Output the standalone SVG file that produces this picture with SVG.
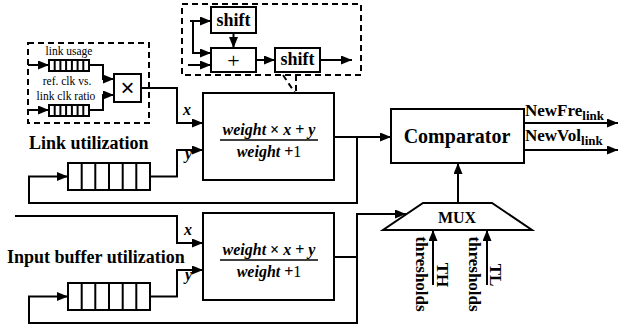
<svg xmlns="http://www.w3.org/2000/svg" width="618" height="325" viewBox="0 0 618 325">
  <defs>
    <marker id="arr" markerWidth="11" markerHeight="9" refX="11" refY="4.5" orient="auto" markerUnits="userSpaceOnUse">
      <path d="M0,0 L11,4.5 L0,9 z" fill="#000"/>
    </marker>
    <style>
      .box{fill:#fff;stroke:#000;stroke-width:2}
      .dash{fill:none;stroke:#000;stroke-width:2;stroke-dasharray:6,4}
      .wire{fill:none;stroke:#000;stroke-width:2}
      .arw{marker-end:url(#arr)}
      .cell{stroke:#000;stroke-width:2}
      text{font-family:"Liberation Serif","Times New Roman",serif;fill:#000}
      .b{font-weight:bold}
      .i{font-style:italic}
      .mid{text-anchor:middle}
      .small{font-size:11.5px}
    </style>
  </defs>
  <rect width="618" height="325" fill="#fff"/>

  <!-- clock-ratio weighting unit -->
  <g id="ratio-unit">
    <rect class="dash" x="28" y="43" width="121" height="80"/>
    <text class="small mid" x="69" y="55">link usage</text>
    <text class="small mid" x="67" y="85">ref. clk vs.</text>
    <text class="small mid" x="66" y="100">link clk ratio</text>
  </g>
  <g id="usage-queue">
    <rect class="box" x="49" y="60" width="40" height="11"/>
    <path class="cell" d="M54.7,60V71M60.4,60V71M66.1,60V71M71.9,60V71M77.6,60V71M83.3,60V71"/>
  </g>
  <g id="ratio-queue">
    <rect class="box" x="49" y="105" width="40" height="11"/>
    <path class="cell" d="M54.7,105V116M60.4,105V116M66.1,105V116M71.9,105V116M77.6,105V116M83.3,105V116"/>
  </g>
  <g id="multiplier">
    <rect class="box" x="114" y="74" width="27" height="28"/>
    <text class="mid" x="127.5" y="96" font-size="24" style="font-family:'Liberation Sans',Arial,sans-serif">×</text>
  </g>

  <!-- shift-and-add detail -->
  <g id="shift-unit">
    <rect class="dash" x="182" y="4" width="179" height="71"/>
    <path class="dash" d="M283,75L295,93M296,75V93"/>
  </g>
  <g id="shift-a">
    <rect class="box" x="211" y="7" width="45" height="26"/>
    <text class="b mid" x="233.5" y="26" font-size="18">shift</text>
  </g>
  <g id="adder">
    <rect class="box" x="211" y="48" width="45" height="24"/>
    <text class="mid" x="233.5" y="68" font-size="22">+</text>
  </g>
  <g id="shift-b">
    <rect class="box" x="275" y="48" width="45" height="24"/>
    <text class="b mid" x="297.5" y="65" font-size="18">shift</text>
  </g>

  <!-- link utilization path -->
  <g id="link-label">
    <text class="b" x="29" y="149" font-size="18">Link utilization</text>
  </g>
  <g id="link-queue">
    <rect class="box" x="68" y="163" width="82" height="27"/>
    <path class="cell" d="M81.7,163V190M95.3,163V190M109,163V190M122.7,163V190M136.3,163V190"/>
  </g>
  <g id="link-filter">
    <rect class="box" x="203" y="93" width="131" height="87"/>
    <text class="b mid" x="269" y="135" font-size="16"><tspan class="i">weight</tspan> × <tspan class="i">x</tspan> + <tspan class="i">y</tspan></text>
    <line x1="220" y1="140" x2="318" y2="140" stroke="#000" stroke-width="1.5"/>
    <text class="b mid" x="269" y="157" font-size="16"><tspan class="i">weight</tspan> +<tspan font-weight="normal">1</tspan></text>
  </g>

  <!-- input buffer utilization path -->
  <g id="buffer-label">
    <text class="b" x="7" y="263" font-size="18">Input buffer utilization</text>
  </g>
  <g id="buffer-queue">
    <rect class="box" x="68" y="283" width="82" height="27"/>
    <path class="cell" d="M81.7,283V310M95.3,283V310M109,283V310M122.7,283V310M136.3,283V310"/>
  </g>
  <g id="buffer-filter">
    <rect class="box" x="203" y="213" width="131" height="87"/>
    <text class="b mid" x="269" y="255" font-size="16"><tspan class="i">weight</tspan> × <tspan class="i">x</tspan> + <tspan class="i">y</tspan></text>
    <line x1="220" y1="260" x2="318" y2="260" stroke="#000" stroke-width="1.5"/>
    <text class="b mid" x="269" y="277" font-size="16"><tspan class="i">weight</tspan> +<tspan font-weight="normal">1</tspan></text>
  </g>

  <!-- decision -->
  <g id="comparator">
    <rect class="box" x="391" y="109" width="133" height="54"/>
    <text class="b mid" x="457" y="143" font-size="20">Comparator</text>
  </g>
  <g id="mux">
    <polygon class="box" points="423,203 492,203 532,230 383,230"/>
    <text class="b mid" x="457" y="223" font-size="16">MUX</text>
  </g>
  <g id="thresholds">
    <text class="b mid" font-size="17" transform="translate(416,274) rotate(90)">thresholds</text>
    <text class="b mid" font-size="17" transform="translate(437,275) rotate(90)">TH</text>
    <text class="b mid" font-size="17" transform="translate(469,274) rotate(90)">thresholds</text>
    <text class="b mid" font-size="17" transform="translate(490,275) rotate(90)">TL</text>
  </g>
  <g id="outputs">
    <text class="b" x="525" y="116" font-size="17">NewFre<tspan font-size="13" dy="4">link</tspan></text>
    <text class="b" x="525" y="141" font-size="17">NewVol<tspan font-size="13" dy="4">link</tspan></text>
  </g>

  <!-- wiring -->
  <g id="connectors">
    <path class="wire arw" d="M28,65H49"/>
    <path class="wire arw" d="M28,110H49"/>
    <path class="wire arw" d="M89,65H103V79H114"/>
    <path class="wire arw" d="M89,110H103V95H114"/>
    <path class="wire arw" d="M141,88H177V123H203"/>
    <path class="wire arw" d="M150,176.5H177V150H203"/>
    <path class="wire arw" d="M334,137H391"/>
    <path class="wire arw" d="M357,137V203H29V176.5H68"/>
    <path class="wire arw" d="M15,216H177V243H203"/>
    <path class="wire arw" d="M150,296.5H177V270H203"/>
    <path class="wire" d="M334,257H357"/>
    <path class="wire arw" d="M357,214V323H29V296.5H68"/>
    <path class="wire arw" d="M356,214H406"/>
    <path class="wire arw" d="M458,203V163"/>
    <path class="wire arw" d="M433,285V230"/>
    <path class="wire arw" d="M487,285V230"/>
    <path class="wire arw" d="M524,123H618"/>
    <path class="wire arw" d="M524,150H618"/>
    <path class="wire arw" d="M190,21H211"/>
    <path class="wire arw" d="M193,21V53H211"/>
    <path class="wire arw" d="M188,65H211"/>
    <path class="wire arw" d="M233.5,33V48"/>
    <path class="wire arw" d="M256,60H275"/>
    <path class="wire arw" d="M320,60H352"/>
    <text class="b i" x="183" y="115" font-size="16">x</text>
    <text class="b i" x="185" y="159" font-size="16">y</text>
    <text class="b i" x="184" y="235" font-size="16">x</text>
    <text class="b i" x="185" y="280" font-size="16">y</text>
  </g>
</svg>
